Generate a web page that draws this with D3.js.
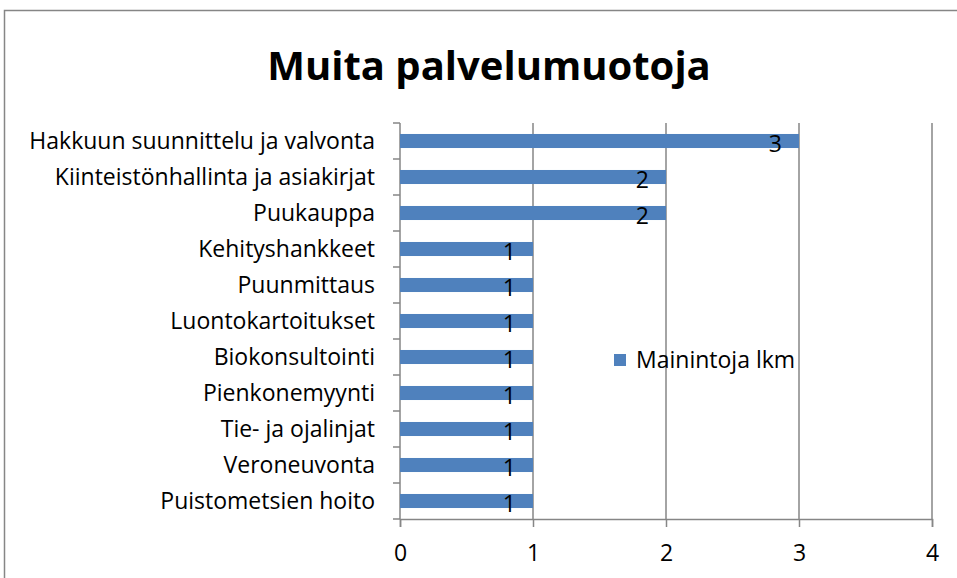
<!DOCTYPE html>
<html>
<head>
<meta charset="utf-8">
<script src="https://cdn.jsdelivr.net/npm/d3@7"></script>
<style>
  body { margin: 0; background: #fff; }
  text { font-family: "Open Sans", sans-serif; fill: #000; }
</style>
</head>
<body>
<script>
// Data
const categories = [
  "Hakkuun suunnittelu ja valvonta",
  "Kiinteistönhallinta ja asiakirjat",
  "Puukauppa",
  "Kehityshankkeet",
  "Puunmittaus",
  "Luontokartoitukset",
  "Biokonsultointi",
  "Pienkonemyynti",
  "Tie- ja ojalinjat",
  "Veroneuvonta",
  "Puistometsien hoito"
];
const values = [3, 2, 2, 1, 1, 1, 1, 1, 1, 1, 1];
const xTicks = [0, 1, 2, 3, 4];
const seriesName = "Mainintoja lkm";
const title = "Muita palvelumuotoja";

const width = 957, height = 578;
const barColor = "#4F81BD";
const gridColor = "#868686";
const fontSize = "23px";

let svg = d3.select("body")
  .append("svg")
  .attr("width", width)
  .attr("height", height);

// outer chart border
svg.append("path")
  .attr("d", "M4.5,578 V10.5 H957")
  .attr("fill", "none")
  .attr("stroke", gridColor)
  .attr("stroke-width", 1.5);

svg.append("text")
  .attr("x", 489)
  .attr("y", 80)
  .attr("text-anchor", "middle")
  .attr("font-weight", "bold")
  .style("font-size", "40px")
  .text(title);

let x = d3.scaleLinear().domain([0, 4]).range([400, 932]);
let y = d3.scaleBand().domain(categories).range([123, 519]).paddingInner(0.61).paddingOuter(0.305);

// gridlines
svg.append("g")
  .selectAll("line")
  .data(xTicks.slice(1))
  .enter()
  .append("line")
  .attr("x1", d => x(d))
  .attr("x2", d => x(d))
  .attr("y1", 123)
  .attr("y2", 519)
  .attr("stroke", gridColor)
  .attr("stroke-width", 1.5);

// x axis
let xAxis = d3.axisBottom(x).tickValues(xTicks).tickFormat(d3.format("d")).tickSize(8).tickPadding(18);
let gx = svg.append("g")
  .attr("transform", "translate(0,519)")
  .call(xAxis);
gx.select(".domain").attr("stroke", gridColor).attr("stroke-width", 1.5);
gx.selectAll(".tick line").attr("stroke", gridColor).attr("stroke-width", 1.5);
gx.selectAll("text").style("font-size", fontSize).attr("fill", "#000");

// y axis (ticks at band boundaries)
let bounds = d3.range(categories.length + 1).map(i => 123 + i * (396 / categories.length));
svg.append("line")
  .attr("x1", 400).attr("x2", 400)
  .attr("y1", 123).attr("y2", 519)
  .attr("stroke", gridColor).attr("stroke-width", 1.5);
svg.append("g")
  .selectAll("line")
  .data(bounds)
  .enter()
  .append("line")
  .attr("x1", 393).attr("x2", 400)
  .attr("y1", d => d).attr("y2", d => d)
  .attr("stroke", gridColor).attr("stroke-width", 1.5);

svg.append("g")
  .selectAll("text")
  .data(categories)
  .enter()
  .append("text")
  .attr("x", 375)
  .attr("y", d => y(d) + y.bandwidth() / 2)
  .attr("dy", "0.35em")
  .attr("text-anchor", "end")
  .style("font-size", fontSize)
  .text(d => d);

// bars
svg.append("g")
  .selectAll("rect")
  .data(values)
  .enter()
  .append("rect")
  .attr("x", x(0))
  .attr("y", (d, i) => y(categories[i]))
  .attr("width", d => x(d) - x(0))
  .attr("height", y.bandwidth())
  .attr("fill", barColor);

// data labels
svg.append("g")
  .selectAll("text")
  .data(values)
  .enter()
  .append("text")
  .attr("x", d => x(d) - 17)
  .attr("y", (d, i) => y(categories[i]) + y.bandwidth() / 2 + 3)
  .attr("dy", "0.35em")
  .attr("text-anchor", "end")
  .style("font-size", fontSize)
  .text(d => d);

// legend
svg.append("rect")
  .attr("x", 614)
  .attr("y", 354)
  .attr("width", 12)
  .attr("height", 12)
  .attr("fill", barColor);
svg.append("text")
  .attr("x", 636)
  .attr("y", 360)
  .attr("dy", "0.35em")
  .style("font-size", fontSize)
  .text(seriesName);
</script>
</body>
</html>
